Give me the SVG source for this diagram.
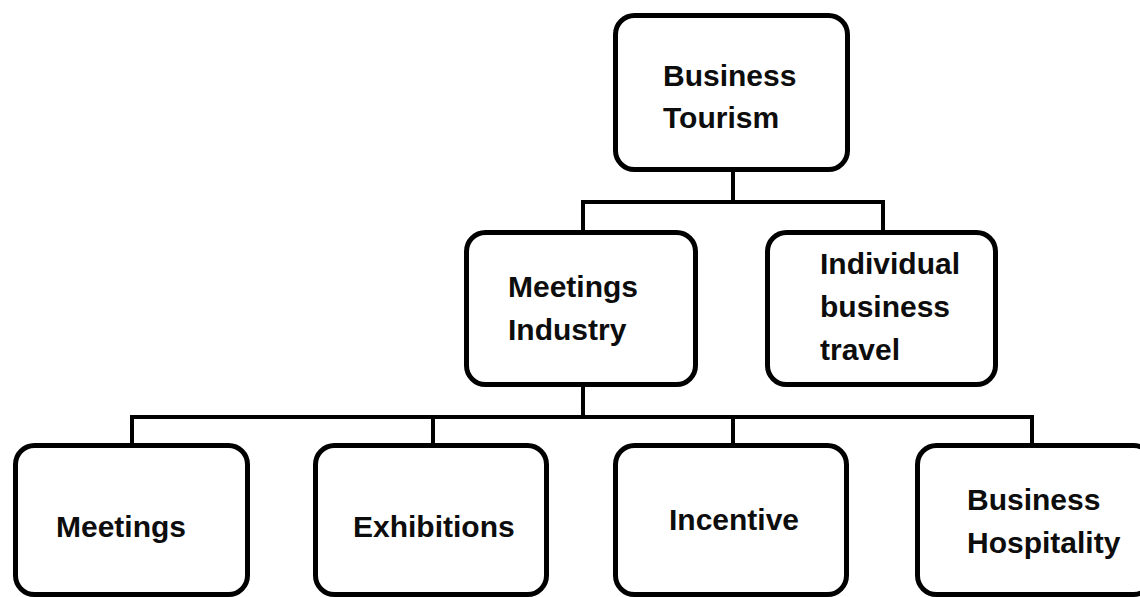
<svg xmlns="http://www.w3.org/2000/svg" width="1140" height="597" viewBox="0 0 1140 597">
  <style>
    .box { fill: #ffffff; stroke: #000000; stroke-width: 5; }
    .link { fill: none; stroke: #000000; stroke-width: 4; stroke-linecap: square; }
    .label { font-family: "Liberation Sans", Arial, sans-serif; font-weight: bold; font-size: 30px; fill: #0d0d0d; }
  </style>
  <rect x="0" y="0" width="1140" height="597" fill="#ffffff"/>

  <!-- connectors -->
  <g id="connectors">
    <path class="link" d="M733 172 V202 M583 202 H883 M583 202 V232 M883 202 V232"/>
    <path class="link" d="M583 387 V417 M132 417 H1032 M132 417 V445 M433 417 V445 M733 417 V445 M1032 417 V445"/>
  </g>

  <g id="business-tourism">
    <rect class="box" x="615.5" y="15.5" width="232" height="154" rx="19"/>
    <text class="label" x="663" y="86">Business</text>
    <text class="label" x="663" y="128">Tourism</text>
  </g>

  <g id="meetings-industry">
    <rect class="box" x="466.5" y="232.5" width="229" height="152" rx="19"/>
    <text class="label" x="508" y="297">Meetings</text>
    <text class="label" x="508" y="340">Industry</text>
  </g>

  <g id="individual-business-travel">
    <rect class="box" x="767.5" y="232.5" width="228" height="152" rx="19"/>
    <text class="label" x="820" y="274">Individual</text>
    <text class="label" x="820" y="317">business</text>
    <text class="label" x="820" y="360">travel</text>
  </g>

  <g id="meetings">
    <rect class="box" x="15.5" y="445.5" width="232" height="149" rx="19"/>
    <text class="label" x="56" y="537">Meetings</text>
  </g>

  <g id="exhibitions">
    <rect class="box" x="315.5" y="445.5" width="231" height="149" rx="19"/>
    <text class="label" x="353" y="537">Exhibitions</text>
  </g>

  <g id="incentive">
    <rect class="box" x="615.5" y="445.5" width="231" height="149" rx="19"/>
    <text class="label" x="669" y="530">Incentive</text>
  </g>

  <g id="business-hospitality">
    <rect class="box" x="917.5" y="445.5" width="235" height="149" rx="19"/>
    <text class="label" x="967" y="510">Business</text>
    <text class="label" x="967" y="553">Hospitality</text>
  </g>
</svg>
